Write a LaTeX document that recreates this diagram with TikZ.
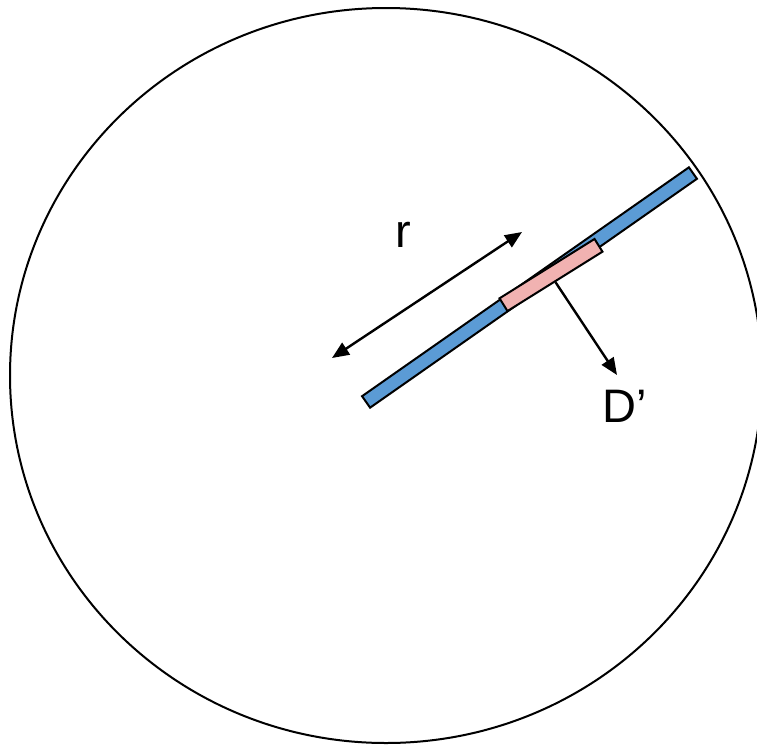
\documentclass[tikz,border=0pt]{standalone}
\usepackage{fontspec}
\setsansfont{Liberation Sans}
\usetikzlibrary{arrows.meta}

\definecolor{barblue}{RGB}{91,155,213}
\definecolor{segpink}{RGB}{241,178,177}

\begin{document}
\begin{tikzpicture}[
    x=1pt, y=-1pt,
    bar/.style={draw, line width=2pt, rectangle, inner sep=0pt, minimum height=14pt},
    arrow/.style={-{Triangle[length=17pt, width=14pt]}, line width=2.4pt},
    darrow/.style={{Triangle[length=17pt, width=14pt]}-{Triangle[length=17pt, width=14pt]}, line width=2.4pt},
    lbl/.style={font=\sffamily\fontsize{47}{56}\selectfont, inner sep=0pt},
]
\useasboundingbox (0,0) rectangle (757,747);

% outer boundary
\draw[line width=2pt] (386,375.5) ellipse [x radius=376, y radius=367.5];

% strip and the small piece on it
\node[bar, fill=barblue, minimum width=399pt, rotate=35] (bar) at (529.5,287.5) {};
\node[bar, fill=segpink, minimum width=112pt, minimum height=15pt, rotate=32] (seg) at (551,275) {};

% radius arrow
\coordinate (rstart) at (332,358);
\coordinate (rend) at (522,232);
\draw[darrow] (rstart) -- (rend);
\node[lbl] (rlabel) at (403,235) {r};

% D' arrow
\coordinate (dtip) at (617,375);
\draw[arrow] (seg.south) -- (dtip);
\node[lbl] (dlabel) at (625,406) {D’};

\end{tikzpicture}
\end{document}
